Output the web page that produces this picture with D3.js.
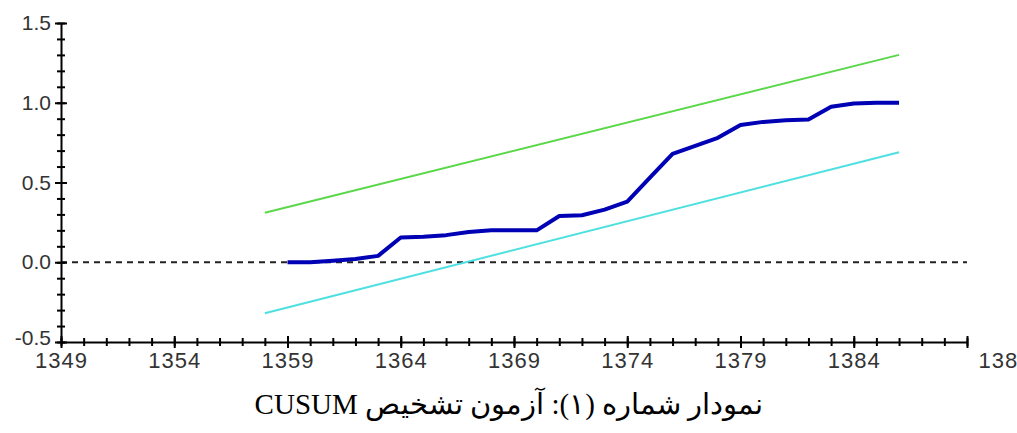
<!DOCTYPE html>
<html>
<head>
<meta charset="utf-8">
<script src="https://cdn.jsdelivr.net/npm/d3@7"></script>
<style>
  body { margin: 0; background: #fff; }
  svg { display: block; }
</style>
</head>
<body>
<div id="chart"></div>
<script>
// define constants
const w = 1017;
const h = 433;
const margin = { left: 61, right: 50, top: 23, bottom: 91 };

// data
const cusumYears = [1359, 1360, 1361, 1362, 1363, 1364, 1365, 1366, 1367, 1368, 1369, 1370, 1371, 1372,
    1373, 1374, 1375, 1376, 1377, 1378, 1379, 1380, 1381, 1382, 1383, 1384, 1385, 1386];
const cusumValues = [0.0, 0.0, 0.01, 0.02, 0.04, 0.155, 0.16, 0.17, 0.19, 0.2, 0.2, 0.2, 0.29, 0.295,
    0.33, 0.38, 0.53, 0.68, 0.73, 0.78, 0.86, 0.88, 0.89, 0.895, 0.975, 0.995, 1.0, 1.0];
const boundYears = [1358, 1386];
const upperValues = [0.31, 1.30];
const lowerValues = [-0.32, 0.69];
const xMajorTicks = [1349, 1354, 1359, 1364, 1369, 1374, 1379, 1384, 1389];
const xTickLabels = ["1349", "1354", "1359", "1364", "1369", "1374", "1379", "1384", "138"];
const yMajorTicks = [-0.5, 0.0, 0.5, 1.0, 1.5];
const yTickLabels = ["-0.5", "0.0", "0.5", "1.0", "1.5"];
const caption = "نمودار شماره (۱): آزمون تشخیص CUSUM";

const svg = d3.select("#chart").append("svg").attr("width", w).attr("height", h);

// define scales
const xScale = d3.scaleLinear().domain([1349, 1389]).range([margin.left, w - margin.right]);
const yScale = d3.scaleLinear().domain([-0.5, 1.5]).range([h - margin.bottom, margin.top]);

// zero reference line
svg.append("line")
    .attr("x1", xScale(1349)).attr("x2", xScale(1389))
    .attr("y1", yScale(0)).attr("y2", yScale(0))
    .attr("stroke", "#222").attr("stroke-width", 2)
    .attr("stroke-dasharray", "6,5");

// lines
const line = (xs) => d3.line()
    .x((d, i) => xScale(xs[i]))
    .y((d) => yScale(d));

svg.append("path").datum(upperValues)
    .attr("fill", "none").attr("stroke", "#5ad84a").attr("stroke-width", 2)
    .attr("d", line(boundYears));

svg.append("path").datum(lowerValues)
    .attr("fill", "none").attr("stroke", "#4ee0e0").attr("stroke-width", 2)
    .attr("d", line(boundYears));

svg.append("path").datum(cusumValues)
    .attr("fill", "none").attr("stroke", "#0000b4").attr("stroke-width", 4)
    .attr("stroke-linejoin", "round")
    .attr("d", line(cusumYears));

// axes: minor ticks cross the axis line
const labelFont = "'Liberation Sans', Arial, sans-serif";

const xMinor = svg.append("g")
    .attr("transform", "translate(0," + yScale(-0.5) + ")")
    .call(d3.axisBottom(xScale).ticks(40).tickSize(0).tickFormat(""));
xMinor.selectAll(".tick line").attr("y1", -4).attr("y2", 4).attr("stroke-width", 2);
xMinor.select(".domain").remove();

const xAxis = svg.append("g")
    .attr("transform", "translate(0," + yScale(-0.5) + ")")
    .call(d3.axisBottom(xScale).tickValues(xMajorTicks).tickSize(0)
        .tickFormat((d, i) => xTickLabels[i]));
xAxis.selectAll(".tick line").attr("y1", -6).attr("y2", 6).attr("stroke-width", 2);
xAxis.select(".domain").attr("stroke-width", 2);
xAxis.selectAll(".tick text")
    .attr("y", 10)
    .style("font-family", labelFont)
    .style("font-size", "22px")
    .style("letter-spacing", "1px")
    .attr("fill", "#333");
xAxis.selectAll(".tick").filter((d) => d === 1389).select("text")
    .attr("text-anchor", "start").attr("x", 11);

const yMinor = svg.append("g")
    .attr("transform", "translate(" + xScale(1349) + ",0)")
    .call(d3.axisLeft(yScale).ticks(20).tickSize(0).tickFormat(""));
yMinor.selectAll(".tick line").attr("x1", -4).attr("x2", 4).attr("stroke-width", 2);
yMinor.select(".domain").remove();

const yAxis = svg.append("g")
    .attr("transform", "translate(" + xScale(1349) + ",0)")
    .call(d3.axisLeft(yScale).tickValues(yMajorTicks).tickSize(0)
        .tickFormat((d, i) => yTickLabels[i]));
yAxis.selectAll(".tick line").attr("x1", -6).attr("x2", 6).attr("stroke-width", 2);
yAxis.select(".domain").attr("stroke-width", 2);
yAxis.selectAll(".tick text")
    .attr("x", -10)
    .style("font-family", labelFont)
    .style("font-size", "21px")
    .attr("fill", "#333");
// lift the bottom label so it clears the first year label
yAxis.selectAll(".tick").filter((d) => d === -0.5).select("text")
    .attr("dy", "0.1em");

// caption
svg.append("text")
    .attr("x", 509).attr("y", 414)
    .attr("text-anchor", "middle")
    .attr("direction", "rtl")
    .style("font-family", "'Liberation Serif', 'DejaVu Serif', 'Noto Sans', serif")
    .style("font-size", "29px")
    .attr("fill", "#000")
    .text(caption);
</script>
</body>
</html>
